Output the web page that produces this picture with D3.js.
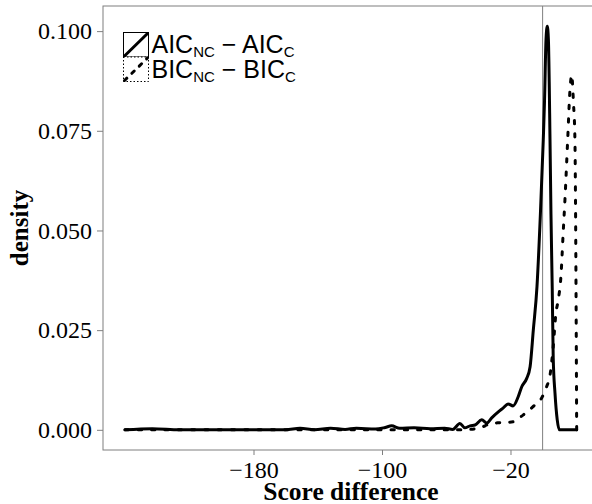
<!DOCTYPE html>
<html>
<head>
<meta charset="utf-8">
<script src="https://cdn.jsdelivr.net/npm/d3@7"></script>
<style>
  body { margin: 0; background: #fff; }
  svg { display: block; }
</style>
</head>
<body>
<script>
// density curves
var aicX = [-260, -243, -226, -182, -160, -151, -142, -132, -123, -116, -104, -98, -94, -89, -80, -70, -61, -56,
  -51.5, -48.4, -45.2, -42.1, -37.9, -34.8, -31.7, -27.6, -24.5, -21.5, -18.4, -15.2, -13.0, -9.9, -7.8,
  -5.8, -3.5, -1.4, 0.4, 1.2, 2.1, 2.9, 3.6, 4.6, 5.2, 6.0, 6.6, 7.7, 9.1, 10.4, 21.2];
var aicY = [0, 0.0003, 0, 0, 0, 0.0004, 0, 0.0004, 0.0001, 0.0004, 0.0002, 0.0006, 0.0010, 0.0004, 0.0005, 0.0003, 0.0004, 0.0001,
  0.0016, 0.0005, 0.0010, 0.0012, 0.0025, 0.0017, 0.0030, 0.0045, 0.0055, 0.0065, 0.0060, 0.0083, 0.0108, 0.0129, 0.0158,
  0.0250, 0.0360, 0.0540, 0.0727, 0.0827, 0.0978, 0.1012, 0.0978, 0.0727, 0.0540, 0.0350, 0.0180, 0.0092, 0.0025, 0, 0];

var bicX = [-260, -50, -39, -32.8, -26.5, -18.4, -12.2, -6.0, -0.6, 2.5, 4.6, 6.6, 8.3, 9.7, 11.4, 12.8, 13.9,
  15.6, 17.0, 18.1, 19.2, 20.1, 20.8, 21.2];
var bicY = [0, 0, 0.0005, 0.0015, 0.0018, 0.0020, 0.0037, 0.0058, 0.0080, 0.0108, 0.0137, 0.0209, 0.0293, 0.0325, 0.0385, 0.0494, 0.0577,
  0.0727, 0.0850, 0.0890, 0.0820, 0.0730, 0.0350, 0];

var xTicks = [-180, -100, -20];
var yTicks = [0, 0.025, 0.05, 0.075, 0.1];
var seriesNames = ["AIC", "BIC"];

var w = 592, h = 504;
var pLeft = 103, pTop = 6, pRight = 599, pBottom = 450;

var svg = d3.select("body").append("svg")
  .attr("width", w)
  .attr("height", h);

var x = d3.scaleLinear().domain([-273.7, 35.1]).range([pLeft, pRight]);
var y = d3.scaleLinear().domain([-0.00506, 0.1063]).range([pBottom, pTop]);

// panel
svg.append("rect")
  .attr("x", pLeft).attr("y", pTop)
  .attr("width", pRight - pLeft).attr("height", pBottom - pTop)
  .attr("fill", "none").attr("stroke", "#7f7f7f").attr("stroke-width", 1);

// vertical reference at 0
svg.append("line")
  .attr("x1", x(0)).attr("x2", x(0))
  .attr("y1", pTop).attr("y2", pBottom)
  .attr("stroke", "#7f7f7f").attr("stroke-width", 1);

// axes
var xAxis = svg.append("g")
  .attr("transform", "translate(0," + pBottom + ")")
  .call(d3.axisBottom(x).tickValues(xTicks).tickSize(5).tickPadding(5.5));
var yAxis = svg.append("g")
  .attr("transform", "translate(" + pLeft + ",0)")
  .call(d3.axisLeft(y).tickValues(yTicks).tickFormat(d3.format(".3f")).tickSize(6).tickPadding(5));

[xAxis, yAxis].forEach(function(g) {
  g.select(".domain").remove();
  g.selectAll(".tick line").attr("stroke", "#7f7f7f");
  g.selectAll("text")
    .attr("fill", "#000")
    .style("font-family", "'Liberation Serif', serif")
    .style("font-size", "24px");
});

// curves
var line = d3.line()
  .x(function(d) { return x(d[0]); })
  .y(function(d) { return y(d[1]); })
  .curve(d3.curveMonotoneX);

svg.append("path")
  .datum(d3.zip(bicX, bicY))
  .attr("d", line)
  .attr("fill", "none").attr("stroke", "#000")
  .attr("stroke-width", 3)
  .attr("stroke-linecap", "round")
  .attr("stroke-dasharray", "3.3,10");

svg.append("path")
  .datum(d3.zip(aicX, aicY))
  .attr("d", line)
  .attr("fill", "none").attr("stroke", "#000")
  .attr("stroke-width", 3)
  .attr("stroke-linejoin", "round")
  .attr("stroke-linecap", "round");

// axis titles
svg.append("text")
  .attr("x", (pLeft + pRight) / 2).attr("y", 499.5)
  .attr("text-anchor", "middle")
  .style("font-family", "'Liberation Serif', serif")
  .style("font-size", "25.5px").style("font-weight", "bold")
  .text("Score difference");

svg.append("text")
  .attr("transform", "translate(28," + (pTop + pBottom) / 2 + ") rotate(-90)")
  .attr("text-anchor", "middle")
  .style("font-family", "'Liberation Serif', serif")
  .style("font-size", "25px").style("font-weight", "bold")
  .text("density");

// legend
var legend = svg.append("g");
seriesNames.forEach(function(name, i) {
  var ky = 32.5 + i * 24.5;
  var k = legend.append("g").attr("transform", "translate(123.5," + ky + ")");
  k.append("rect")
    .attr("width", 25).attr("height", 24.5)
    .attr("fill", "#fff").attr("stroke", "#000").attr("stroke-width", 1)
    .attr("stroke-dasharray", i ? "1.5,2" : null);
  k.append("line")
    .attr("x1", 1).attr("y1", 23.5).attr("x2", 24).attr("y2", 1)
    .attr("stroke", "#000").attr("stroke-width", 3)
    .attr("stroke-linecap", "round")
    .attr("stroke-dasharray", i ? "3.3,7" : null);
  var t = legend.append("text")
    .attr("x", 151.5).attr("y", ky + 20.5)
    .style("font-family", "'Liberation Sans', Arial, sans-serif")
    .style("font-size", "25px");
  t.append("tspan").text(name);
  t.append("tspan").attr("dy", 4).style("font-size", "15px").text("NC");
  t.append("tspan").attr("dy", -4).text(" \u2212 " + name);
  t.append("tspan").attr("dy", 4).style("font-size", "15px").text("C");
});
</script>
</body>
</html>
